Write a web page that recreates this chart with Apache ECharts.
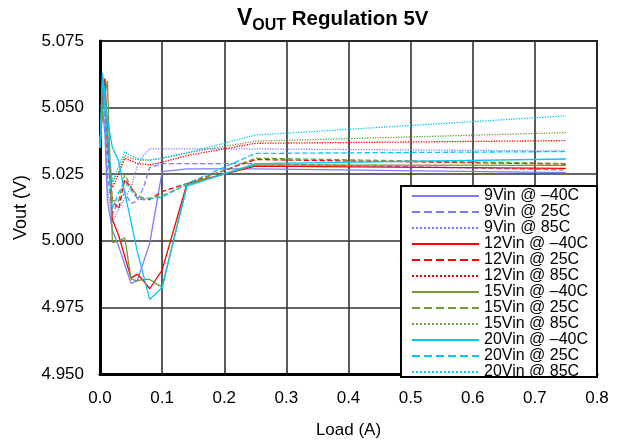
<!DOCTYPE html>
<html>
<head>
<meta charset="utf-8">
<script src="https://cdn.jsdelivr.net/npm/echarts@6/dist/echarts.min.js"></script>
<style>html,body{margin:0;padding:0;background:#fff}#c{width:618px;height:444px}</style>
</head>
<body>
<div id="c"></div>
<script>
// Load points (A)
const loads = [0, 0.004, 0.008, 0.012, 0.02, 0.03, 0.04, 0.05, 0.06, 0.07, 0.08, 0.1, 0.14, 0.25, 0.75];

// Vout (V) per series
const v9_m40  = [5.035, 5.050, 5.040, 5.015, 5.004, 4.998, 4.991, 4.984, 4.985, 4.992, 4.999, 5.026, 5.027, 5.027, 5.0256];
const v9_25   = [5.035, 5.055, 5.045, 5.025, 5.010, 5.015, 5.018, 5.014, 5.015, 5.020, 5.0275, 5.029, 5.029, 5.029, 5.0266];
const v9_85   = [5.035, 5.055, 5.045, 5.020, 5.007, 5.012, 5.016, 5.020, 5.028, 5.032, 5.0345, 5.0345, 5.0345, 5.0345, 5.0337];
const v12_m40 = [5.035, 5.055, 5.061, 5.040, 5.008, 5.002, 4.994, 4.986, 4.9875, 4.985, 4.982, 4.989, 5.0215, 5.028, 5.0272];
const v12_25  = [5.035, 5.052, 5.058, 5.035, 5.015, 5.012, 5.023, 5.020, 5.016, 5.0155, 5.0155, 5.0185, 5.0215, 5.0305, 5.0288];
const v12_85  = [5.035, 5.050, 5.055, 5.035, 5.020, 5.025, 5.031, 5.030, 5.029, 5.0288, 5.0285, 5.0295, 5.032, 5.0366, 5.0376];
const v15_m40 = [5.035, 5.050, 5.055, 5.060, 4.9993, 5.000, 5.0011, 4.9856, 4.985, 4.9855, 4.9855, 4.9825, 5.021, 5.0285, 5.0283];
const v15_25  = [5.035, 5.050, 5.056, 5.040, 5.015, 5.015, 5.025, 5.020, 5.017, 5.016, 5.016, 5.017, 5.021, 5.031, 5.029];
const v15_85  = [5.035, 5.050, 5.055, 5.035, 5.022, 5.026, 5.032, 5.031, 5.0305, 5.0303, 5.0303, 5.031, 5.033, 5.0374, 5.0406];
const v20_m40 = [5.035, 5.063, 5.055, 5.045, 5.035, 5.030, 5.018, 5.007, 4.996, 4.987, 4.978, 4.9825, 5.0205, 5.029, 5.0307];
const v20_25  = [5.035, 5.060, 5.050, 5.035, 5.012, 5.018, 5.0223, 5.019, 5.016, 5.0155, 5.0158, 5.0163, 5.0215, 5.0328, 5.0335];
const v20_85  = [5.035, 5.062, 5.050, 5.040, 5.022, 5.028, 5.0334, 5.032, 5.031, 5.0305, 5.0303, 5.031, 5.033, 5.0397, 5.0469];

const names = ['9Vin @ \u201340C','9Vin @ 25C','9Vin @ 85C',
               '12Vin @ \u201340C','12Vin @ 25C','12Vin @ 85C',
               '15Vin @ \u201340C','15Vin @ 25C','15Vin @ 85C',
               '20Vin @ \u201340C','20Vin @ 25C','20Vin @ 85C'];
const values = [v9_m40, v9_25, v9_85, v12_m40, v12_25, v12_85, v15_m40, v15_25, v15_85, v20_m40, v20_25, v20_85];

const xTicks = { min: 0, max: 0.8, step: 0.1 };
const yTicks = { min: 4.95, max: 5.075, step: 0.025 };

const colors = ['#7b7bff', '#ff0000', '#6f9a3a', '#00c8f8'];
const types = ['solid', 'dashed', 'dotted'];

const series = values.map((vals, i) => ({
  name: names[i],
  type: 'line',
  symbol: 'none',
  showSymbol: false,
  data: loads.map((x, j) => [x, vals[j]]),
  lineStyle: { color: colors[Math.floor(i / 3)], width: 1.3, type: types[i % 3] },
  itemStyle: { color: colors[Math.floor(i / 3)] },
  z: 2
}));

const FONT = 'Liberation Sans, Arial, sans-serif';
const chart = echarts.init(document.getElementById('c'));
chart.setOption({
  animation: false,
  backgroundColor: '#fff',
  title: {
    text: '{a|V}{b|OUT}{c| Regulation 5V}',
    left: 237, top: 7, padding: 0,
    textStyle: {
      rich: {
        a: { fontFamily: FONT, fontWeight: 'bold', fontSize: 23, color: '#000', verticalAlign: 'bottom' },
        b: { fontFamily: FONT, fontWeight: 'bold', fontSize: 16, color: '#000', verticalAlign: 'bottom', padding: [0, 0, -4, 0] },
        c: { fontFamily: FONT, fontWeight: 'bold', fontSize: 20.5, color: '#000', verticalAlign: 'bottom' }
      }
    }
  },
  grid: { left: 100, right: 21, top: 41, bottom: 67, show: true, borderColor: '#000', borderWidth: 2, backgroundColor: '#fff' },
  xAxis: {
    type: 'value', min: xTicks.min, max: xTicks.max, interval: xTicks.step,
    name: 'Load (A)', nameLocation: 'middle', nameGap: 48,
    nameTextStyle: { fontFamily: FONT, fontSize: 17, color: '#000' },
    axisLine: { lineStyle: { color: '#000', width: 3 } },
    axisTick: { show: false },
    axisLabel: { fontFamily: FONT, fontSize: 17, color: '#000', margin: 16, formatter: v => v.toFixed(1) },
    splitLine: { show: true, lineStyle: { color: '#333', width: 1.6 } }
  },
  yAxis: {
    type: 'value', min: yTicks.min, max: yTicks.max, interval: yTicks.step,
    name: 'Vout (V)', nameLocation: 'middle', nameGap: 70, nameRotate: 90,
    nameTextStyle: { fontFamily: FONT, fontSize: 18, color: '#000' },
    axisLine: { show: true, lineStyle: { color: '#000', width: 3 } },
    axisTick: { show: false },
    axisLabel: { fontFamily: FONT, fontSize: 17, color: '#000', margin: 16, formatter: v => v.toFixed(3) },
    splitLine: { show: true, lineStyle: { color: '#333', width: 1.6 } }
  },
  graphic: [{
    type: 'rect', z: 3,
    shape: { x: 401, y: 186, width: 196, height: 191 },
    style: { fill: '#fff', stroke: '#000', lineWidth: 2 }
  }],
  legend: {
    orient: 'vertical', left: 411, top: 188, padding: 0,
    itemWidth: 67, itemHeight: 10, itemGap: 0, z: 5,
    itemStyle: { opacity: 0, borderWidth: 0 },
    textStyle: { fontFamily: FONT, fontSize: 16, color: '#000', lineHeight: 15.8 },
    data: names
  },
  series: series
});
</script>
</body>
</html>
